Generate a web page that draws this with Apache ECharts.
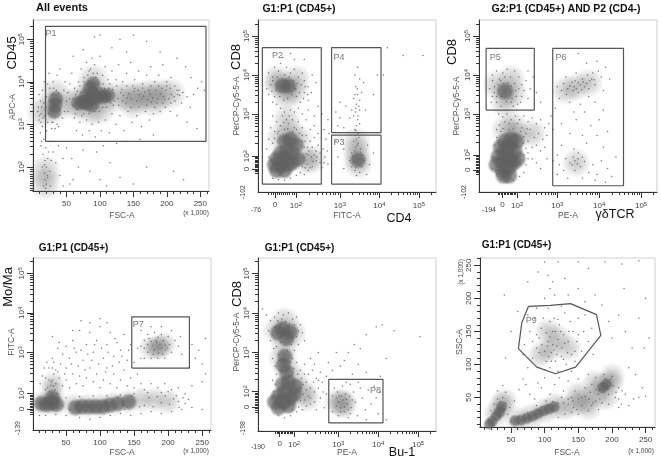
<!DOCTYPE html>
<html>
<head>
<meta charset="utf-8">
<style>html,body{margin:0;padding:0;background:#fff}#main{width:661px;height:460px}</style>
<script src="https://cdn.jsdelivr.net/npm/echarts@6/dist/echarts.min.js"></script>
</head>
<body>
<div id="main"></div>
<script>
// values. FSC/SSC in thousands, fluorescence in display decades (3 = 10^3)
// Halo / Core = where the dots are too dense to read one by one, drawn as soft density patches
var p1Halo = [[33,3.4],[33,3.7],[14,3.3],[70,3.5],[85,3.75],[90,4.05],[105,3.65],[125,3.65],[145,3.65],[160,3.65],[175,3.7],[190,3.7],[205,3.72],[85,3.35],[150,3.5],[180,3.55],[100,3.35],[18,1.9],[18,1.6],[60,3.5]];
var p1Core = [[32,3.3],[33,3.45],[34,3.6],[68,3.5],[74,3.52],[80,3.5],[80,3.68],[85,3.6],[90,3.7],[85,3.85],[90,3.95],[88,3.45],[95,3.62],[100,3.7],[106,3.65],[112,3.68]];
var p1Dots = [[16,1.55],[18,1.7],[20,1.6],[17,1.85],[22,1.75],[14,2.0],[20,2.0],[18,2.15],[15,2.3],[22,2.2],[12,2.5],[19,2.45],[16,2.65],[24,2.6],[11,2.8],[14,2.95],[20,2.85],[26,1.55],[25,1.9],[30,2.35],[34,2.1],[40,1.8],[38,2.5],[45,2.2],[50,2.45],[58,2.2],[68,2.0],[60,1.7],[75,2.4],[85,1.9],[95,2.35],[105,2.5],[115,2.1],[125,2.55],[170,2.0],[225,1.7],[150,1.6],[19,1.5],[21,1.8],[17,2.05],[23,2.35],[13,2.6],[27,2.15],[9,3.1],[12,3.25],[8,3.4],[15,3.15],[18,3.35],[11,3.55],[16,3.5],[22,3.05],[9,3.7],[14,3.8],[20,3.65],[25,3.85],[22,3.95],[17,4.0],[28,2.9],[38,2.95],[44,3.15],[42,3.55],[46,3.8],[30,4.0],[36,4.15],[40,4.3],[48,4.0],[28,3.05],[26,3.3],[38,3.75],[24,4.2],[52,3.3],[55,3.6],[55,3.95],[58,4.2],[62,3.15],[65,2.85],[70,3.05],[74,2.75],[80,3.1],[84,2.85],[88,3.0],[93,2.7],[98,3.05],[102,2.85],[108,3.1],[114,2.8],[118,3.25],[124,3.0],[130,3.2],[136,2.85],[142,3.3],[148,3.05],[155,3.2],[162,2.95],[168,3.3],[174,3.1],[180,3.25],[190,3.3],[198,3.4],[205,3.3],[68,4.0],[72,4.3],[76,4.1],[80,4.45],[84,4.25],[88,4.55],[92,4.4],[96,4.2],[100,4.6],[104,4.15],[108,4.35],[112,4.05],[118,4.25],[124,4.05],[128,4.4],[134,4.0],[140,4.2],[146,4.45],[152,4.05],[158,4.25],[164,3.95],[170,4.15],[176,4.35],[182,4.0],[188,4.15],[194,4.4],[200,4.0],[206,4.1],[212,3.9],[218,3.8],[224,3.75],[230,3.65],[236,4.1],[240,3.7],[246,3.85],[252,4.0],[256,3.8],[228,4.35],[215,4.55],[190,4.7],[170,4.95],[130,5.0],[100,5.1],[92,5.05],[75,4.75],[60,4.6],[140,4.7],[118,4.8],[150,5.1],[128,3.45],[134,3.55],[140,3.9],[146,3.4],[152,3.85],[158,3.4],[164,3.85],[170,3.45],[176,3.9],[182,3.4],[188,3.9],[194,3.5],[200,3.9],[206,3.5],[212,3.55],[216,3.7],[222,3.5],[215,3.2],[235,3.4],[230,3.05],[245,2.9],[60,3.45],[64,3.7],[62,3.85],[66,3.35],[72,3.75],[76,3.25],[110,3.4],[115,3.95],[120,3.45],[125,3.9],[105,3.95],[210,1.9],[160,2.65],[140,2.6],[180,2.75],[100,1.7],[110,1.55],[130,1.75],[55,1.6],[45,1.55],
  [127,3.6],[131,3.75],[135,3.68],[139,3.5],[143,3.72],[147,3.6],[151,3.78],[155,3.55],[159,3.7],[163,3.6],[167,3.76],[171,3.58],[175,3.7],[179,3.62],[183,3.8],[187,3.6],[191,3.72],[195,3.65],[199,3.8],[203,3.6],[207,3.7],[211,3.65],[215,3.8],[219,3.68],[133,3.82],[149,3.9],[165,3.66],[177,3.52],[193,3.85],[205,3.85],[141,3.62],[157,3.8],[173,3.8],[185,3.5],[197,3.58],[60,3.6],[63,3.25],[66,3.78],[70,3.9],[73,3.2],[76,4.0],[78,3.35],[82,4.15],[84,3.25],[86,4.3],[90,4.2],[92,3.3],[94,4.1],[97,3.95],[99,3.3],[102,3.85],[104,3.4],[107,3.85],[110,3.55],[113,3.85],[116,3.5],[119,3.82],[122,3.55],[29,3.7],[31,3.85],[35,3.8],[28,3.5],[37,3.55],[27,3.25],[38,3.3],[30,3.05],[36,3.0],[33,2.9],[10,3.2],[13,3.4],[17,3.2],[20,3.4],[23,3.25],[24,3.55],[12,3.05],[7,3.3],[47,3.3],[50,3.55],[52,3.75]];

var p2Halo = [[1.45,3.75],[1.65,3.7],[1.85,3.6],[1.65,3.45],[1.4,3.9],[1.9,3.9],[1.65,2.85],[1.75,2.5],[1.95,2.35],[1.5,2.4],[2.15,1.8],[2.3,1.85],[3.45,1.85],[3.46,1.7],[3.42,2.05],[3.42,2.3],[1.5,1.7]];
var p2Core = [[1.35,1.7],[1.4,1.55],[1.4,1.85],[1.5,1.7],[1.6,1.55],[1.6,1.85],[1.7,1.7],[1.8,1.75],[1.5,2.0],[1.65,2.05],[1.8,2.0],[1.95,1.85],[1.6,2.3],[1.75,2.35],[1.9,2.2],[3.46,1.82],[1.55,3.72],[1.7,3.72]];
var p2Dots = [[1.2,4.05],[1.3,3.95],[1.35,4.2],[1.45,4.1],[1.5,4.3],[1.6,4.0],[1.65,4.2],[1.75,4.05],[1.85,4.15],[1.95,3.95],[2.05,4.05],[2.1,3.85],[2.2,3.7],[2.28,3.55],[2.2,3.35],[2.1,3.55],[2.0,3.3],[1.9,3.45],[1.3,3.3],[1.2,3.5],[1.15,3.65],[1.25,3.75],[1.4,3.25],[1.5,3.15],[1.6,3.05],[1.75,3.1],[1.85,3.05],[1.95,3.15],[2.05,3.0],[2.2,3.1],[2.35,2.95],[2.45,3.2],[2.3,4.0],[2.4,3.8],[1.75,4.55],[1.85,4.4],[2.1,4.4],[1.55,4.45],[1.3,2.95],[1.4,2.8],[1.5,2.7],[1.25,2.65],[1.95,2.8],[2.05,2.65],[2.15,2.85],[2.25,2.6],[2.35,2.7],[2.45,2.5],[2.15,2.45],[2.25,2.3],[2.35,2.4],[2.45,2.2],[2.5,2.0],[2.4,2.05],[2.3,2.15],[2.2,1.95],[2.4,1.8],[2.5,1.75],[2.3,1.65],[2.2,1.55],[2.1,1.45],[2.0,1.5],[1.9,1.42],[1.75,1.35],[1.6,1.3],[1.45,1.32],[1.3,1.35],[2.6,1.75],[2.7,1.72],[2.58,2.1],[2.65,2.35],[2.6,2.6],[2.7,2.85],[2.55,3.0],[2.72,2.5],[3.45,4.2],[3.38,4.0],[3.5,3.9],[3.6,3.8],[3.4,3.7],[3.45,3.5],[3.55,3.55],[3.35,3.4],[3.5,3.35],[3.42,3.25],[3.3,3.1],[3.4,3.05],[3.5,3.1],[3.25,2.9],[3.35,2.95],[3.45,2.85],[3.42,2.7],[3.5,2.75],[3.38,2.6],[3.46,2.5],[3.4,2.45],[3.35,2.3],[3.46,2.25],[3.4,2.15],[3.52,2.1],[3.3,2.0],[3.55,1.95],[3.25,1.8],[3.6,1.8],[3.3,1.65],[3.55,1.65],[3.38,1.55],[3.5,1.5],[3.42,1.42],[3.0,2.9],[2.95,2.7],[3.1,2.65],[2.9,3.05],[3.15,3.2],[3.0,3.3],[2.95,1.9],[3.1,2.1],[3.1,1.6],[2.9,2.3],[3.7,2.2],[3.75,1.7],[3.85,2.0],[3.68,1.45],[3.65,3.1],[3.85,3.5],[3.95,4.0],[4.1,4.0],[4.2,4.7],[5.1,4.5],[4.6,4.5],[1.35,2.55],[1.45,2.55],[1.6,2.6],[1.7,2.75],[1.85,2.65],[2.05,2.3],[2.1,2.15],[2.05,1.65],[1.2,1.9],[1.15,2.1],[1.2,2.35],[1.3,2.25],
  [1.3,3.85],[1.38,3.6],[1.42,3.95],[1.48,3.45],[1.55,3.9],[1.58,3.35],[1.62,3.85],[1.68,3.4],[1.72,3.95],[1.78,3.5],[1.82,3.85],[1.88,3.65],[1.92,3.78],[1.98,3.55],[2.02,3.75],[2.08,3.4],[1.35,3.45],[1.28,3.58],[2.12,3.7],[2.18,3.5],[1.55,2.95],[1.65,2.85],[1.72,2.95],[1.8,2.85],[1.58,2.78],[1.68,2.62],[1.8,2.55],[1.9,2.6],[1.98,2.5],[2.05,2.45],[1.42,2.5],[1.35,2.38],[2.12,2.3],[2.18,2.15],[2.22,2.05],[2.28,1.9],[2.32,1.78],[2.18,1.72],[2.25,1.62],[2.12,1.62],[2.35,1.95],[2.42,1.9],[2.08,1.9],[2.15,1.98],[2.62,1.9],[2.68,2.05],[2.55,1.62],[3.4,1.62],[3.5,1.7],[3.36,1.78],[3.55,1.85],[3.34,1.92],[3.52,2.02],[3.38,2.05],[3.44,2.2],[3.42,2.35],[3.48,2.4],[3.4,2.58],[3.46,2.95],[3.4,3.15],[3.48,3.2],[3.38,3.5],[3.44,3.65]];

var p3Halo = [[1.55,3.75],[1.74,3.55],[1.95,3.55],[1.75,3.25],[1.9,3.9],[1.95,2.7],[2.05,2.45],[1.75,2.6],[2.4,2.5],[3.45,3.7],[3.75,3.8],[3.2,3.6],[3.45,1.75],[1.8,1.8]];
var p3Core = [[1.55,1.7],[1.6,1.9],[1.7,1.55],[1.7,1.8],[1.75,2.05],[1.85,1.65],[1.85,1.85],[1.95,1.75],[1.85,2.15],[1.98,2.05],[2.05,1.85],[1.65,2.15],[1.75,2.3],[1.9,2.35],[2.02,2.3],[1.72,1.42],[1.85,1.42],[1.75,3.58]];
var p3Dots = [[1.45,4.0],[1.55,4.1],[1.62,3.9],[1.7,4.05],[1.8,4.15],[1.88,3.95],[1.98,4.1],[2.08,3.95],[2.15,3.75],[2.25,3.85],[2.35,3.65],[2.3,3.4],[2.15,3.45],[2.05,3.25],[1.95,3.2],[1.65,3.2],[1.55,3.3],[1.45,3.45],[1.38,3.65],[1.42,3.3],[1.5,3.55],[1.6,3.75],[1.9,3.72],[2.0,3.6],[2.3,4.1],[2.42,3.95],[2.5,3.55],[2.6,3.3],[1.6,3.0],[1.7,2.92],[1.8,3.0],[1.9,2.85],[2.0,2.95],[2.1,2.85],[2.2,2.95],[2.3,2.8],[2.4,2.9],[2.5,2.75],[2.6,2.85],[2.7,2.65],[2.8,2.75],[2.85,2.95],[2.9,2.6],[2.15,2.65],[2.25,2.5],[2.35,2.6],[2.45,2.4],[2.55,2.5],[2.65,2.35],[2.75,2.45],[2.3,2.3],[2.4,2.15],[2.5,2.2],[2.6,2.05],[2.7,2.15],[2.3,2.0],[2.4,1.85],[2.5,1.75],[2.6,1.6],[2.75,1.85],[2.25,1.7],[2.2,1.5],[2.1,1.4],[1.95,1.3],[1.8,1.25],[1.65,1.32],[1.55,1.45],[1.45,1.6],[1.45,1.9],[1.5,2.2],[1.55,2.4],[1.65,2.55],[1.85,2.6],[3.0,3.7],[3.1,3.6],[3.15,3.78],[3.22,3.5],[3.3,3.72],[3.38,3.6],[3.42,3.85],[3.5,3.55],[3.55,3.75],[3.6,3.9],[3.65,3.7],[3.72,4.0],[3.78,3.85],[3.85,4.05],[3.9,3.75],[3.98,4.1],[4.05,3.95],[4.15,4.2],[4.25,3.9],[4.1,3.6],[3.75,3.45],[3.55,3.25],[3.3,3.3],[3.05,3.4],[2.95,3.15],[3.4,3.05],[3.65,3.05],[3.9,3.3],[4.1,3.1],[3.2,3.95],[3.45,4.05],[3.7,4.3],[3.95,4.35],[3.5,4.55],[3.1,2.75],[3.45,2.85],[3.8,2.7],[4.0,2.85],[3.3,2.5],[3.6,2.45],[3.95,2.45],[4.2,2.55],[3.1,2.2],[3.4,2.1],[3.7,2.25],[4.1,2.15],[3.0,1.95],[3.2,1.85],[3.35,1.7],[3.5,1.85],[3.55,1.65],[3.42,1.55],[3.65,1.78],[3.75,1.5],[3.85,1.7],[3.95,1.45],[4.05,1.8],[4.2,1.6],[4.3,1.4],[4.4,1.9],[3.15,1.55],[3.0,1.45],[3.25,1.35],[3.6,1.35],[3.9,1.3],[4.15,1.25],[3.05,1.7],[3.5,2.0],[2.9,1.8],
  [1.5,3.7],[1.55,3.45],[1.6,3.6],[1.65,3.85],[1.68,3.45],[1.72,3.78],[1.78,3.32],[1.82,3.8],[1.88,3.55],[1.92,3.4],[1.98,3.78],[2.02,3.45],[2.08,3.65],[2.12,3.3],[2.2,3.6],[1.45,3.85],[1.75,3.95],[1.9,3.3],[3.25,3.65],[3.35,3.82],[3.4,3.7],[3.45,3.65],[3.5,3.8],[3.58,3.62],[3.62,3.82],[3.7,3.78],[3.75,3.65],[3.82,3.9],[3.88,3.88],[1.75,2.8],[1.85,2.75],[1.95,2.62],[2.05,2.75],[2.12,2.55],[2.2,2.42],[2.28,2.62],[2.18,2.25],[2.25,2.12],[2.2,1.95],[2.3,1.85],[2.18,1.82],[1.62,2.72],[1.7,2.62],[1.55,2.6],[3.3,1.75],[3.42,1.8],[3.48,1.72],[3.38,1.9],[3.6,1.9]];

var p4Halo = [[14,1.7],[25,1.72],[35,1.7],[30,2.0],[30,2.2],[62,1.65],[80,1.65],[100,1.65],[120,1.7],[140,1.75],[160,1.8],[180,1.8],[200,1.75],[186,3.1],[175,3.1],[195,3.2],[185,3.15]];
var p4Core = [[14,1.7],[22,1.68],[30,1.72],[36,1.68],[30,1.85],[64,1.6],[74,1.62],[84,1.62],[94,1.62],[104,1.62],[114,1.66],[126,1.7],[142,1.74]];
var p4Dots = [[30,2.3],[32,2.45],[28,2.15],[25,2.3],[35,2.2],[20,2.35],[15,2.4],[12,2.2],[18,2.6],[25,2.6],[35,2.55],[40,2.35],[45,2.15],[50,2.3],[55,2.1],[42,2.7],[50,2.6],[60,2.45],[65,2.2],[70,2.4],[75,2.15],[80,2.35],[85,2.6],[90,2.25],[95,2.45],[100,2.1],[105,2.3],[110,2.6],[115,2.2],[120,2.45],[125,2.1],[130,2.3],[135,2.55],[140,2.15],[145,2.35],[150,2.1],[155,2.45],[160,2.2],[165,2.05],[175,2.2],[185,2.1],[195,2.2],[205,2.05],[215,2.1],[225,1.95],[235,2.15],[250,2.25],[30,2.85],[38,3.1],[45,2.95],[30,3.4],[40,3.25],[50,3.15],[55,2.85],[60,3.3],[65,3.0],[70,3.55],[75,2.8],[80,3.2],[85,3.5],[90,3.0],[95,3.3],[100,3.65],[105,2.85],[110,3.2],[115,3.5],[120,2.9],[125,3.25],[130,3.05],[135,3.45],[140,2.8],[72,3.8],[85,3.75],[100,3.85],[110,3.75],[60,3.55],[145,3.2],[150,2.75],[160,2.85],[165,3.3],[155,3.1],[165,2.85],[170,3.45],[175,2.85],[180,3.5],[185,2.85],[190,3.45],[195,2.85],[200,3.4],[205,3.0],[210,3.3],[215,3.15],[220,2.95],[218,3.4],[205,3.55],[190,3.65],[175,3.65],[160,3.55],[170,3.2],[160,3.15],[182,3.3],[196,3.05],[202,3.2],[178,2.95],[192,2.95],[235,3.2],[245,3.05],[255,3.35],[240,2.85],[250,2.7],[255,2.45],[230,2.6],[11,1.4],[20,1.4],[35,1.42],[50,1.4],[55,1.55],[70,1.35],[85,1.3],[100,1.35],[115,1.4],[130,1.45],[145,1.4],[160,1.45],[175,1.5],[190,1.45],[205,1.5],[220,1.55],[235,1.6],[250,1.55],[215,1.75],[225,1.7],[212,1.9],[200,2.0],[190,1.98],[170,1.98],[150,1.95],[130,1.92],[110,1.9],[90,1.9],[70,1.88],[50,1.85],[45,1.65],
  [26,2.0],[30,1.95],[34,2.05],[28,2.25],[32,2.15],[23,2.1],[37,1.95],[20,2.05],[38,2.5],[30,2.6],[22,2.75],[32,2.75],[48,2.45],[58,2.7],[68,2.65],[78,2.55],[88,2.8],[98,2.7],[108,2.5],[118,2.65],[128,2.75],[62,3.1],[72,3.05],[82,2.95],[92,3.2],[102,3.1],[112,3.0],[122,3.35],[132,2.9],[142,3.05],[165,3.1],[170,3.0],[175,3.28],[178,3.18],[180,3.05],[183,3.25],[186,2.98],[188,3.2],[190,3.1],[193,3.3],[196,3.18],[199,3.1],[172,3.35],[185,3.38],[165,1.65],[172,1.85],[178,1.62],[184,1.88],[190,1.72],[196,1.9],[202,1.68],[208,1.82],[158,1.62],[146,1.9],[136,1.55],[126,1.85],[140,1.62],[216,1.6],[222,1.85],[230,1.8]];

var p5Halo = [[1.45,3.55],[1.66,3.5],[1.85,3.5],[1.66,3.2],[1.66,3.8],[1.6,2.85],[1.7,2.6],[1.9,2.3],[2.1,2.0],[2.2,1.85],[3.13,1.7],[3.0,1.75],[3.1,1.7],[1.65,1.8]];
var p5Core = [[1.48,3.5],[1.6,3.6],[1.7,3.35],[1.8,3.52],[1.66,2.9],[1.62,2.68],[1.7,2.5],[1.4,1.75],[1.5,1.6],[1.5,1.9],[1.62,1.75],[1.65,2.0],[1.75,1.65],[1.8,1.85],[1.9,1.95],[1.6,2.2],[1.75,2.25],[1.92,2.15]];
var p5Dots = [[1.2,3.95],[1.3,3.8],[1.4,3.9],[1.5,4.0],[1.62,3.95],[1.75,4.0],[1.85,3.85],[1.95,3.9],[2.05,3.7],[2.1,3.5],[2.15,3.3],[2.0,3.2],[1.9,3.05],[1.25,3.55],[1.3,3.3],[1.38,3.1],[1.5,2.95],[1.35,2.85],[1.42,2.65],[1.85,2.85],[1.95,2.75],[2.05,2.55],[2.15,2.7],[2.25,2.45],[2.35,2.55],[2.45,2.35],[2.3,2.85],[2.4,2.7],[2.5,3.0],[2.55,2.5],[2.6,2.25],[2.7,2.4],[2.75,2.75],[2.85,2.55],[2.95,3.0],[3.05,2.65],[3.15,2.8],[3.25,3.0],[3.4,3.2],[3.55,3.1],[3.7,3.45],[3.95,3.65],[4.1,3.7],[4.4,3.55],[5.05,3.4],[1.1,4.1],[2.2,2.25],[2.3,2.1],[2.4,2.0],[2.5,2.1],[2.3,1.85],[2.4,1.75],[2.2,1.65],[2.1,1.55],[1.95,1.5],[1.8,1.4],[1.65,1.35],[1.5,1.4],[2.55,1.85],[2.7,1.95],[2.65,1.6],[2.45,1.55],[1.38,2.0],[1.35,2.3],[1.45,2.45],[2.85,1.5],[2.85,1.9],[2.9,2.1],[2.95,1.65],[3.0,1.4],[3.02,1.9],[3.05,1.6],[3.1,2.15],[3.12,1.8],[3.15,1.5],[3.18,1.95],[3.22,1.7],[3.25,1.35],[3.28,1.9],[3.3,2.2],[3.32,1.6],[3.38,2.0],[3.42,1.75],[3.48,1.4],[3.55,2.1],[3.6,1.85],[3.68,1.55],[3.75,2.05],[3.82,1.7],[3.9,2.15],[3.95,1.85],[4.0,1.45],[4.05,2.0],[3.5,2.25],[3.2,2.25],[4.2,1.3],[3.7,1.3],[3.35,2.45],[3.7,2.5],[4.05,2.4],[3.5,2.7],[4.2,2.85],
  [1.35,3.45],[1.4,3.65],[1.48,3.8],[1.55,3.72],[1.58,3.85],[1.68,3.78],[1.78,3.72],[1.9,3.7],[1.95,3.4],[2.0,3.55],[1.82,3.2],[1.55,3.25],[1.45,3.15],[1.72,3.05],[1.52,2.8],[1.8,2.75],[1.88,2.6],[1.98,2.45],[2.08,2.35],[2.15,2.45],[2.12,2.2],[2.2,2.05],[2.05,2.1],[2.12,1.95],[2.25,1.9],[2.05,1.78],[2.15,1.8],[2.3,1.7],[2.0,1.62],[1.42,2.2],[1.85,1.55],[2.38,2.25],[2.5,2.3],[2.62,2.0],[2.95,1.85],[3.0,1.75],[3.08,1.9],[3.15,1.62],[3.2,1.82],[3.05,1.5],[3.25,1.55],[2.98,2.0],[3.35,1.8],[3.3,1.45]];

var p6Halo = [[28,25],[36,38],[40,45],[60,17],[80,22],[100,30],[115,38],[130,35],[145,40],[160,45],[175,55],[188,68],[198,72],[150,55],[165,35],[175,72],[190,50],[200,82],[108,124],[120,140],[95,115],[135,125],[105,150]];
var p6Core = [[18,10],[22,14],[28,22],[33,28],[36,36],[56,15],[65,16],[74,19],[82,22],[90,26],[98,30],[106,33],[114,36],[186,65],[192,70]];
var p6Dots = [[20,30],[25,40],[30,48],[45,25],[48,35],[42,58],[38,68],[30,60],[55,45],[62,62],[68,78],[72,70],[78,55],[85,48],[90,72],[95,65],[100,80],[108,55],[115,70],[122,80],[128,60],[135,75],[140,90],[145,60],[150,78],[155,50],[160,65],[165,85],[170,70],[176,80],[182,48],[188,85],[195,55],[200,82],[205,50],[210,65],[214,40],[220,55],[225,38],[232,48],[240,50],[250,52],[120,20],[130,25],[140,28],[150,25],[165,30],[180,32],[195,40],[210,35],[75,28],[88,38],[102,45],[125,50],[140,50],[170,38],[185,42],[75,95],[82,110],[88,125],[92,140],[95,155],[98,170],[102,105],[105,135],[108,95],[110,118],[112,150],[114,170],[116,105],[118,128],[120,90],[122,160],[125,112],[128,145],[130,178],[132,100],[135,135],[138,165],[140,115],[142,150],[145,105],[148,135],[150,170],[155,120],[158,150],[160,175],[165,135],[170,155],[172,115],[85,170],[78,150],[70,130],[68,115],[75,175],[88,185],[105,185],[125,188],[100,200],[108,215],[112,225],[115,205],[105,235],[135,205],[150,215],[160,195],[175,205],[185,190],[195,165],[200,140],[210,175],[220,150],[230,125],[240,170],[250,200],[255,140],[225,95],[235,85],[245,65],[60,180],[50,150],[42,110],[40,205],[75,225],[90,240],[130,230],[165,245],[190,255],[215,252],[240,257],[150,255],[120,255],[100,255],[218,215],[248,125],
  [100,120],[104,128],[106,112],[112,130],[114,122],[118,115],[120,138],[108,142],[102,148],[96,130],[92,118],[126,125],[130,132],[124,150],[116,150],[128,108],[134,118],[110,105],[100,92],[136,150],[145,120],[88,145],[82,135],[150,145],[120,168],[108,165],[135,40],[142,45],[148,32],[155,38],[160,52],[166,48],[172,42],[176,62],[180,55],[184,72],[188,58],[190,78],[194,62],[198,78],[202,68],[206,58],[182,62],[176,45],[168,58],[150,48],[143,35],[135,48],[128,42],[120,42],[112,44],[104,38],[96,35],[88,30],[80,28],[70,24],[62,22],[50,14],[30,34],[34,44],[26,32],[38,50],[42,42],[24,22],[32,20],[40,32],[210,48],[215,60]];

var p1Gate = [18.7, 258.5, 2.6, 5.3];
var p2Gate = [1.04, 2.53, 1.2, 4.7];
var p3Gate = [2.79, 4.04, 1.2, 2.46];
var p4Gate = [2.79, 4.04, 2.52, 4.7];
var p5Gate = [1.3, 2.45, 3.1, 4.68];
var p6Gate = [2.89, 4.58, 1.16, 4.68];
var p7Gate = [146.6, 231.3, 2.6, 3.9];
var p8Gate = [2.76, 4.12, 1.22, 2.32];
var p9Gate = [[76,188],[108.5,189.5],[138.5,192],[177,175.4],[183.5,144],[146,96],[116,86],[88.5,96],[61,124],[66,163],[76,188]];

var fscTicks = [50, 100, 150, 200, 250];
var decadeLabels = ['0', '10^2', '10^3', '10^4', '10^5'];

var FONT = '"Liberation Sans", Arial, sans-serif';

function rect(g) {
  return [[g[0],g[2]],[g[1],g[2]],[g[1],g[3]],[g[0],g[3]],[g[0],g[2]]];
}

function sup(s) {
  var m = s.split('^');
  return m.length > 1 ? '{b|' + m[0] + '}{s|' + m[1] + '}' : '{b|' + s + '}';
}

// tick marks of the biexponential display: linear round 0, log above 10^2
function bxMinor(a) {
  var zero = a[0], two = a[1], three = a[2], sp = a[3] - a[2], out = [];
  for (var k = -3; k < 10; k++) out.push(zero + (two - zero) * k / 10);
  for (k = 2; k < 10; k++) out.push(two + (three - two) * Math.log10(k));
  for (var n = 0; n < 2; n++) for (k = 2; k < 10; k++) out.push(three + sp * (n + Math.log10(k)));
  for (k = 2; k < 4; k++) out.push(three + sp * (2 + Math.log10(k)));
  return out;
}

function linMinor(max) {
  var out = [];
  for (var v = 10; v <= max; v += 10) out.push(v);
  return out;
}

function soft(stops) {
  return new echarts.graphic.RadialGradient(0.5, 0.5, 0.5, stops);
}
var haloFill = soft([{ offset: 0, color: 'rgba(105,105,105,0.45)' }, { offset: 0.55, color: 'rgba(105,105,105,0.25)' }, { offset: 1, color: 'rgba(105,105,105,0)' }]);
var coreFill = soft([{ offset: 0, color: 'rgba(95,95,95,1)' }, { offset: 0.65, color: 'rgba(95,95,95,0.8)' }, { offset: 1, color: 'rgba(95,95,95,0)' }]);

var labelRich = {
  b: { fontFamily: FONT, fontSize: 8, color: '#444' },
  s: { fontFamily: FONT, fontSize: 6, color: '#444', verticalAlign: 'top', padding: [0, 0, 3, 0] }
};

function axes(kind, idx, min, max, pos, labels, tickVals, minorVals, margin) {
  var line = { show: true, onZero: false, lineStyle: { color: '#333', width: 1 } };
  var main = {
    type: 'value', gridIndex: idx, position: pos, min: min, max: max, splitLine: { show: false },
    axisLine: line,
    axisTick: { show: true, length: 6, customValues: tickVals, lineStyle: { color: '#333' } },
    axisLabel: {
      show: true, customValues: tickVals, margin: margin, rotate: kind === 'y' ? 90 : 0, hideOverlap: false,
      showMinLabel: true, showMaxLabel: true, rich: labelRich,
      formatter: function (v) {
        var i = tickVals.indexOf(v);
        return i >= 0 ? sup(labels[i]) : '';
      }
    }
  };
  var minor = {
    type: 'value', gridIndex: idx, position: pos, min: min, max: max, splitLine: { show: false },
    axisLine: { show: false, onZero: false },
    axisTick: { show: true, length: 3, customValues: minorVals, lineStyle: { color: '#333' } },
    axisLabel: { show: false }
  };
  return [main, minor];
}

var panels = [
  { box: [33, 20, 209, 191], x: [0, 263], y: [1.435, 5.45], xt: fscTicks, xl: ['50','100','150','200','250'], xm: linMinor(260),
    yt: [2, 3, 4, 5], yl: decadeLabels.slice(1), ym: bxMinor([1.45, 2, 3, 4]), halo: p1Halo, core: p1Core, dots: p1Dots, coreSize: 17, haloSize: 34,
    gates: [rect(p1Gate)], names: [['P1', 27, 5.13]] },
  { box: [258, 20, 436, 192], x: [0.93, 5.43], y: [1.0, 5.41], xt: [1.36, 1.89, 3, 4, 5], xl: decadeLabels, xm: bxMinor([1.36, 1.89, 3, 4]),
    yt: [1.59, 1.92, 3, 4, 5], yl: decadeLabels, ym: bxMinor([1.59, 1.92, 3, 4]), halo: p2Halo, core: p2Core, dots: p2Dots, coreSize: 18, haloSize: 30,
    gates: [rect(p2Gate), rect(p3Gate), rect(p4Gate)], names: [['P2', 1.42, 4.5], ['P3', 2.98, 2.28], ['P4', 2.98, 4.45]] },
  { box: [479, 20, 657, 192], x: [1.13, 5.38], y: [1.0, 5.41], xt: [1.69, 2.04, 3, 4, 5], xl: decadeLabels, xm: bxMinor([1.69, 2.04, 3, 4]),
    yt: [1.57, 1.95, 3, 4, 5], yl: decadeLabels, ym: bxMinor([1.57, 1.95, 3, 4]), halo: p3Halo, core: p3Core, dots: p3Dots, coreSize: 19, haloSize: 30,
    gates: [rect(p5Gate), rect(p6Gate)], names: [['P5', 1.52, 4.45], ['P6', 3.09, 4.45]] },
  { box: [33, 258, 211, 430], x: [1.5, 263], y: [1.03, 5.39], xt: fscTicks, xl: ['50','100','150','200','250'], xm: linMinor(260),
    yt: [1.56, 1.96, 3, 4, 5], yl: decadeLabels, ym: bxMinor([1.56, 1.96, 3, 4]), halo: p4Halo, core: p4Core, dots: p4Dots, coreSize: 18, haloSize: 26,
    gates: [rect(p7Gate)], names: [['P7', 156, 3.7]] },
  { box: [258, 258, 436, 431], x: [0.985, 5.45], y: [1.015, 5.39], xt: [1.53, 1.89, 3, 4, 5], xl: decadeLabels, xm: bxMinor([1.53, 1.89, 3, 4]),
    yt: [1.62, 2.02, 3, 4, 5], yl: decadeLabels, ym: bxMinor([1.62, 2.02, 3, 4]), halo: p5Halo, core: p5Core, dots: p5Dots, coreSize: 18, haloSize: 30,
    gates: [rect(p8Gate)], names: [['P8', 3.93, 2.03]] },
  { box: [480, 258, 655, 427], x: [3.9, 264], y: [5.6, 261], xt: fscTicks, xl: ['50','100','150','200','250'], xm: linMinor(260),
    yt: fscTicks, yl: ['50','100','150','200','250'], ym: linMinor(260), halo: p6Halo, core: p6Core, dots: p6Dots, coreSize: 13, haloSize: 28,
    gates: [p9Gate], names: [['P9', 80, 167]] }
];

var grids = [], xAxes = [], yAxes = [], series = [];
panels.forEach(function (p, i) {
  grids.push({ left: p.box[0], top: p.box[1], width: p.box[2] - p.box[0], height: p.box[3] - p.box[1], show: true, borderColor: '#cfcfcf', borderWidth: 1, backgroundColor: 'transparent' });
  var xa = axes('x', i, p.x[0], p.x[1], 'bottom', p.xl, p.xt, p.xm, 9);
  var ya = axes('y', i, p.y[0], p.y[1], 'left', p.yl, p.yt, p.ym, 7);
  xAxes.push(xa[0], xa[1]);
  yAxes.push(ya[0], ya[1]);
  var xi = i * 2, yi = i * 2;
  series.push({ type: 'scatter', xAxisIndex: xi, yAxisIndex: yi, data: p.halo, symbolSize: p.haloSize, itemStyle: { color: haloFill }, silent: true, z: 1 });
  series.push({ type: 'scatter', xAxisIndex: xi, yAxisIndex: yi, data: p.core, symbolSize: p.coreSize, itemStyle: { color: coreFill }, silent: true, z: 2 });
  series.push({ type: 'scatter', xAxisIndex: xi, yAxisIndex: yi, data: p.dots, symbolSize: 1.5, itemStyle: { color: '#666', opacity: 0.9 }, silent: true, z: 3 });
  p.gates.forEach(function (g) {
    series.push({ type: 'line', xAxisIndex: xi, yAxisIndex: yi, data: g, showSymbol: false, lineStyle: { color: '#555', width: 1.2 }, silent: true, z: 4 });
  });
  series.push({
    type: 'scatter', xAxisIndex: xi, yAxisIndex: yi, symbolSize: 0, silent: true, z: 5,
    data: p.names.map(function (n) { return { name: n[0], value: [n[1], n[2]] }; }),
    label: { show: true, position: 'inside', formatter: '{b}', fontFamily: FONT, fontSize: 9, color: '#555' }
  });
});

// page text: [text, x, y, size, bold, rotated, colour]
var texts = [
  ['All events', 62, 8, 11, true], ['G1:P1 (CD45+)', 299, 9.5, 10.5, true], ['G2:P1 (CD45+) AND P2 (CD4-)', 566, 9.5, 10.5, true],
  ['G1:P1 (CD45+)', 73.5, 248, 10, true], ['G1:P1 (CD45+)', 299.5, 248, 10, true], ['G1:P1 (CD45+)', 516.5, 245, 10, true],
  ['CD45', 12, 53, 13, false, true], ['CD8', 236, 57, 13, false, true], ['CD8', 452, 52, 13, false, true], ['Mo/Ma', 8, 287, 13, false, true], ['CD8', 237, 294, 13, false, true],
  ['CD4', 399, 219, 12.5], ['\u03b3\u03b4TCR', 615, 215, 12.5], ['Bu-1', 402, 453, 12.5],
  ['APC-A', 13, 107, 8.5, false, true, '#555'], ['PerCP-Cy5-5-A', 237, 106, 8.5, false, true, '#555'], ['PerCP-Cy5-5-A', 457, 106, 8.5, false, true, '#555'],
  ['FITC-A', 12, 342, 8.5, false, true, '#555'], ['PerCP-Cy5-5-A', 237, 342, 8.5, false, true, '#555'], ['SSC-A', 460, 342, 8.5, false, true, '#555'],
  ['FSC-A', 122, 216, 8.5, false, false, '#555'], ['FITC-A', 347, 216, 8.5, false, false, '#555'], ['PE-A', 568, 216, 8.5, false, false, '#555'],
  ['FSC-A', 122, 453, 8.5, false, false, '#555'], ['PE-A', 347, 453, 8.5, false, false, '#555'], ['FSC-A', 567, 453, 8.5, false, false, '#555'],
  ['(x 1,000)', 196, 213, 6.5, false, false, '#444'], ['(x 1,000)', 196, 451, 6.5, false, false, '#444'], ['(x 1,000)', 641, 451, 6.5, false, false, '#444'], ['(x 1,000)', 461, 272, 6.5, false, true, '#444'],
  ['-76', 256, 210, 7, false, false, '#444'], ['-194', 489, 210, 7, false, false, '#444'], ['-190', 258, 447, 7, false, false, '#444'],
  ['-102', 243, 192, 7, false, true, '#444'], ['-102', 464, 192, 7, false, true, '#444'], ['-139', 18, 428, 7, false, true, '#444'], ['-198', 243, 428, 7, false, true, '#444']
];

var graphics = texts.map(function (t) {
  return {
    type: 'text', x: t[1], y: t[2], rotation: t[5] ? Math.PI / 2 : 0, silent: true,
    style: { text: t[0], fontFamily: FONT, fontSize: t[3], fontWeight: t[4] ? 'bold' : 'normal', fill: t[6] || '#111', align: 'center', verticalAlign: 'middle' }
  };
});

var chart = echarts.init(document.getElementById('main'), null, { renderer: 'canvas' });
chart.setOption({
  animation: false,
  backgroundColor: '#fff',
  grid: grids,
  xAxis: xAxes,
  yAxis: yAxes,
  series: series,
  graphic: graphics
});
</script>
</body>
</html>
